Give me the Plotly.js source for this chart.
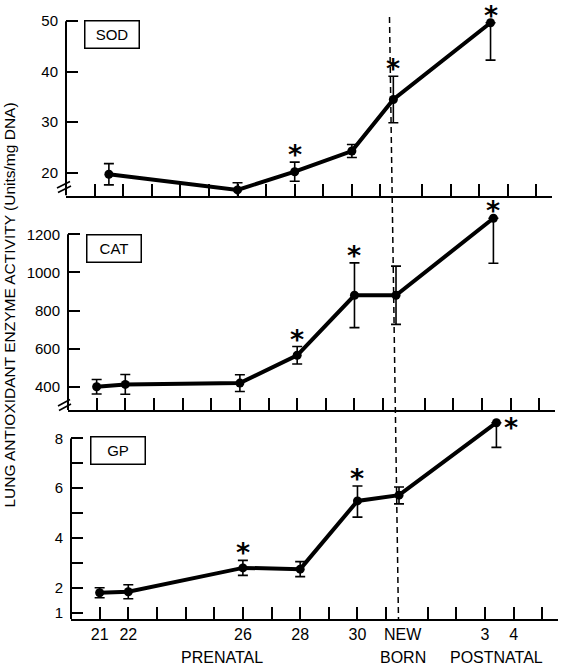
<!DOCTYPE html>
<html>
<head>
<meta charset="utf-8">
<script src="https://cdn.plot.ly/plotly-3.0.1.min.js"></script>
<style>
  html, body { margin: 0; padding: 0; background: #fff; }
  #chart { width: 562px; height: 667px; }
</style>
</head>
<body>
<div id="chart"></div>
<script>
// Age scale: prenatal gestational days run 21..31, birth sits just after day 31,
// postnatal days are counted on from birth.
const BIRTH = 31.45;
const prenatalTickDays = [21, 22, 23, 24, 25, 26, 27, 28, 29, 30, 31];
const postnatalTickDays = [1, 2, 3, 4, 5];
const prenatalLabels = [21, 22, 26, 28, 30];
const postnatalLabels = [3, 4];

// Superoxide dismutase (units/mg DNA)
const sodAge = [21.5, 26, 28, 30, BIRTH, BIRTH + 3.4];
const sodMean = [19.7, 16.6, 20.2, 24.3, 34.5, 49.7];
const sodErrUp = [2.1, 1.4, 1.9, 1.3, 4.6, 0];
const sodErrDown = [2.1, 1.4, 1.9, 1.3, 4.6, 7.4];
const sodSignificant = [false, false, true, false, true, true];

// Catalase (units/mg DNA)
const catAge = [21, 22, 26, 28, 30, BIRTH, BIRTH + 3.4];
const catMean = [400, 412, 419, 565, 880, 880, 1284];
const catErrUp = [38, 52, 44, 46, 170, 153, 0];
const catErrDown = [38, 52, 44, 46, 170, 153, 236];
const catSignificant = [false, false, false, true, true, false, true];

// Glutathione peroxidase (units/mg DNA)
const gpAge = [21, 22, 26, 28, 30, BIRTH, BIRTH + 3.4];
const gpMean = [1.80, 1.84, 2.80, 2.75, 5.49, 5.72, 8.63];
const gpErrUp = [0.2, 0.28, 0.3, 0.3, 0.6, 0.33, 0];
const gpErrDown = [0.2, 0.28, 0.3, 0.3, 0.65, 0.35, 0.99];
const gpSignificant = [false, false, true, false, true, false, true];

// Y ticks per panel
const sodTicks = [20, 30, 40, 50];
const catTicks = [400, 600, 800, 1000, 1200];
const gpTicks = [1, 2, 3, 4, 5, 6, 7, 8];
const gpTickText = ['1', '2', '', '4', '', '6', '', '8'];

const W = 562, H = 667;
const FONT = 'Liberation Sans, Arial, Helvetica, sans-serif';
const px = v => v / W;          // horizontal pixel -> paper
const py = v => 1 - v / H;      // vertical pixel -> paper

const xTickVals = prenatalTickDays.concat(postnatalTickDays.map(d => BIRTH + d));
const xTickText = prenatalTickDays.map(d => prenatalLabels.includes(d) ? String(d) : '')
  .concat(postnatalTickDays.map(d => postnatalLabels.includes(d) ? String(d) : ''));

// panel frames: [left, right, bottom, top] in page pixels, plus y range
const panels = [
  { name: 'SOD', x: 'x',  y: 'y',  frame: [66, 552, 195.5, 5],  yrange: [15.49, 53.21], ytop: 50,
    age: sodAge, mean: sodMean, up: sodErrUp, down: sodErrDown, sig: sodSignificant,
    ticks: sodTicks, tickText: sodTicks.map(String), box: [111.5, 35], brk: [[57, 188, 70, 181.5], [58, 192.5, 71, 186]] },
  { name: 'CAT', x: 'x2', y: 'y2', frame: [68, 555, 410, 205],  yrange: [277.7, 1353.8], ytop: 1200,
    age: catAge, mean: catMean, up: catErrUp, down: catErrDown, sig: catSignificant,
    ticks: catTicks, tickText: catTicks.map(String), box: [114, 248.3], brk: [[58, 406, 70, 399.5], [59, 410.5, 71, 404]] },
  { name: 'GP',  x: 'x3', y: 'y3', frame: [71, 558, 619, 415],  yrange: [0.747, 8.94], ytop: 8,
    age: gpAge, mean: gpMean, up: gpErrUp, down: gpErrDown, sig: gpSignificant,
    ticks: gpTicks, tickText: gpTickText, box: [117.8, 450], brk: null }
];

const traces = [];
const shapes = [];
const annotations = [];
const layout = {
  width: W, height: H,
  margin: { l: 0, r: 0, t: 0, b: 0 },
  paper_bgcolor: '#fff', plot_bgcolor: '#fff',
  showlegend: false,
  font: { family: FONT, color: '#000', size: 15 }
};

const starFont = { size: 27, family: 'DejaVu Sans', color: '#000', weight: 'bold' };

panels.forEach((p, i) => {
  const xKey = 'xaxis' + (i ? i + 1 : '');
  const yKey = 'yaxis' + (i ? i + 1 : '');
  const [l, r, b, t] = p.frame;
  const last = i === panels.length - 1;

  layout[xKey] = {
    domain: [px(l), px(r)], anchor: p.y, range: [20, 37],
    tickmode: 'array', tickvals: xTickVals, ticktext: xTickText,
    showticklabels: last, tickfont: { size: 16, family: FONT, color: '#000' },
    ticks: 'inside', ticklen: 12, tickwidth: 2, tickcolor: '#000',
    showline: true, linewidth: 2, linecolor: '#000',
    showgrid: false, zeroline: false, fixedrange: true
  };
  layout[yKey] = {
    domain: [py(b), py(t)], anchor: p.x, range: p.yrange,
    tickmode: 'array', tickvals: p.ticks, ticktext: p.tickText,
    tickfont: { size: 15, family: FONT, color: '#000' }, ticklabelstandoff: 7,
    ticks: 'inside', ticklen: 12, tickwidth: 2, tickcolor: '#000',
    showline: false, showgrid: false, zeroline: false, fixedrange: true
  };

  traces.push({
    type: 'scatter', mode: 'lines+markers',
    x: p.age, y: p.mean, xaxis: p.x, yaxis: p.y,
    line: { color: '#000', width: 4 },
    marker: { color: '#000', size: 9 },
    error_y: { type: 'data', symmetric: false, array: p.up, arrayminus: p.down,
               color: '#000', thickness: 1.6, width: 5 },
    cliponaxis: false, hoverinfo: 'skip'
  });

  // vertical axis stops at its top tick
  shapes.push({ type: 'line', xref: p.x + ' domain', yref: p.y, x0: 0, x1: 0,
    y0: p.yrange[0], y1: p.ytop, line: { color: '#000', width: 2 }, layer: 'above' });

  // broken-axis marks
  if (p.brk) {
    p.brk.forEach(s => shapes.push({ type: 'line', xref: 'paper', yref: 'paper',
      x0: px(s[0]), y0: py(s[1]), x1: px(s[2]), y1: py(s[3]),
      line: { color: '#000', width: 1.6 } }));
  }

  // enzyme label box
  annotations.push({ xref: 'paper', yref: 'paper', x: px(p.box[0]), y: py(p.box[1]),
    xanchor: 'center', yanchor: 'middle',
    text: p.name, showarrow: false, width: 45, height: 18,
    font: { size: 15, family: FONT, color: '#000' },
    bordercolor: '#000', borderwidth: 1.5, borderpad: 4, bgcolor: '#fff' });

  // significance asterisks
  p.sig.forEach((s, k) => {
    if (!s) return;
    const isLast = k === p.sig.length - 1 && last;
    annotations.push(isLast ? {
      xref: p.x, yref: p.y, x: p.age[k], y: p.mean[k], text: '*', showarrow: false,
      xanchor: 'left', yanchor: 'middle', xshift: 6, yshift: -5, font: starFont
    } : {
      xref: p.x, yref: p.y, x: p.age[k], y: p.mean[k] + p.up[k], text: '*', showarrow: false,
      xanchor: 'center', yanchor: 'bottom', yshift: -10, font: starFont
    });
  });
});

// birth marker running through all three panels
shapes.push({ type: 'line', xref: 'paper', yref: 'paper',
  x0: px(389.5), y0: py(17), x1: px(398.5), y1: py(620),
  line: { color: '#000', width: 1.5, dash: '6px,4px' } });

// lower axis captions
const capFont = { size: 16, family: FONT, color: '#000' };
const cap = (x, y, text, xref, xshift) => ({
  xref: xref || 'paper', yref: 'paper', x, y: py(y), text, showarrow: false,
  xanchor: 'center', yanchor: 'middle', xshift: xshift || 0, font: capFont
});
annotations.push(
  cap(BIRTH, 634, 'NEW', 'x3', 4),
  cap(BIRTH, 657, 'BORN', 'x3', 4),
  cap(px(221.7), 657, 'PRENATAL'),
  cap(px(496.7), 657, 'POSTNATAL'),
  { xref: 'paper', yref: 'paper', x: px(8.5), y: py(305), xanchor: 'center', yanchor: 'middle',
    textangle: -90, text: 'LUNG ANTIOXIDANT ENZYME ACTIVITY (Units/mg DNA)', showarrow: false,
    font: { size: 15.5, family: FONT, color: '#000' } }
);

layout.shapes = shapes;
layout.annotations = annotations;

Plotly.newPlot('chart', traces, layout, { staticPlot: true, displayModeBar: false });
</script>
</body>
</html>
